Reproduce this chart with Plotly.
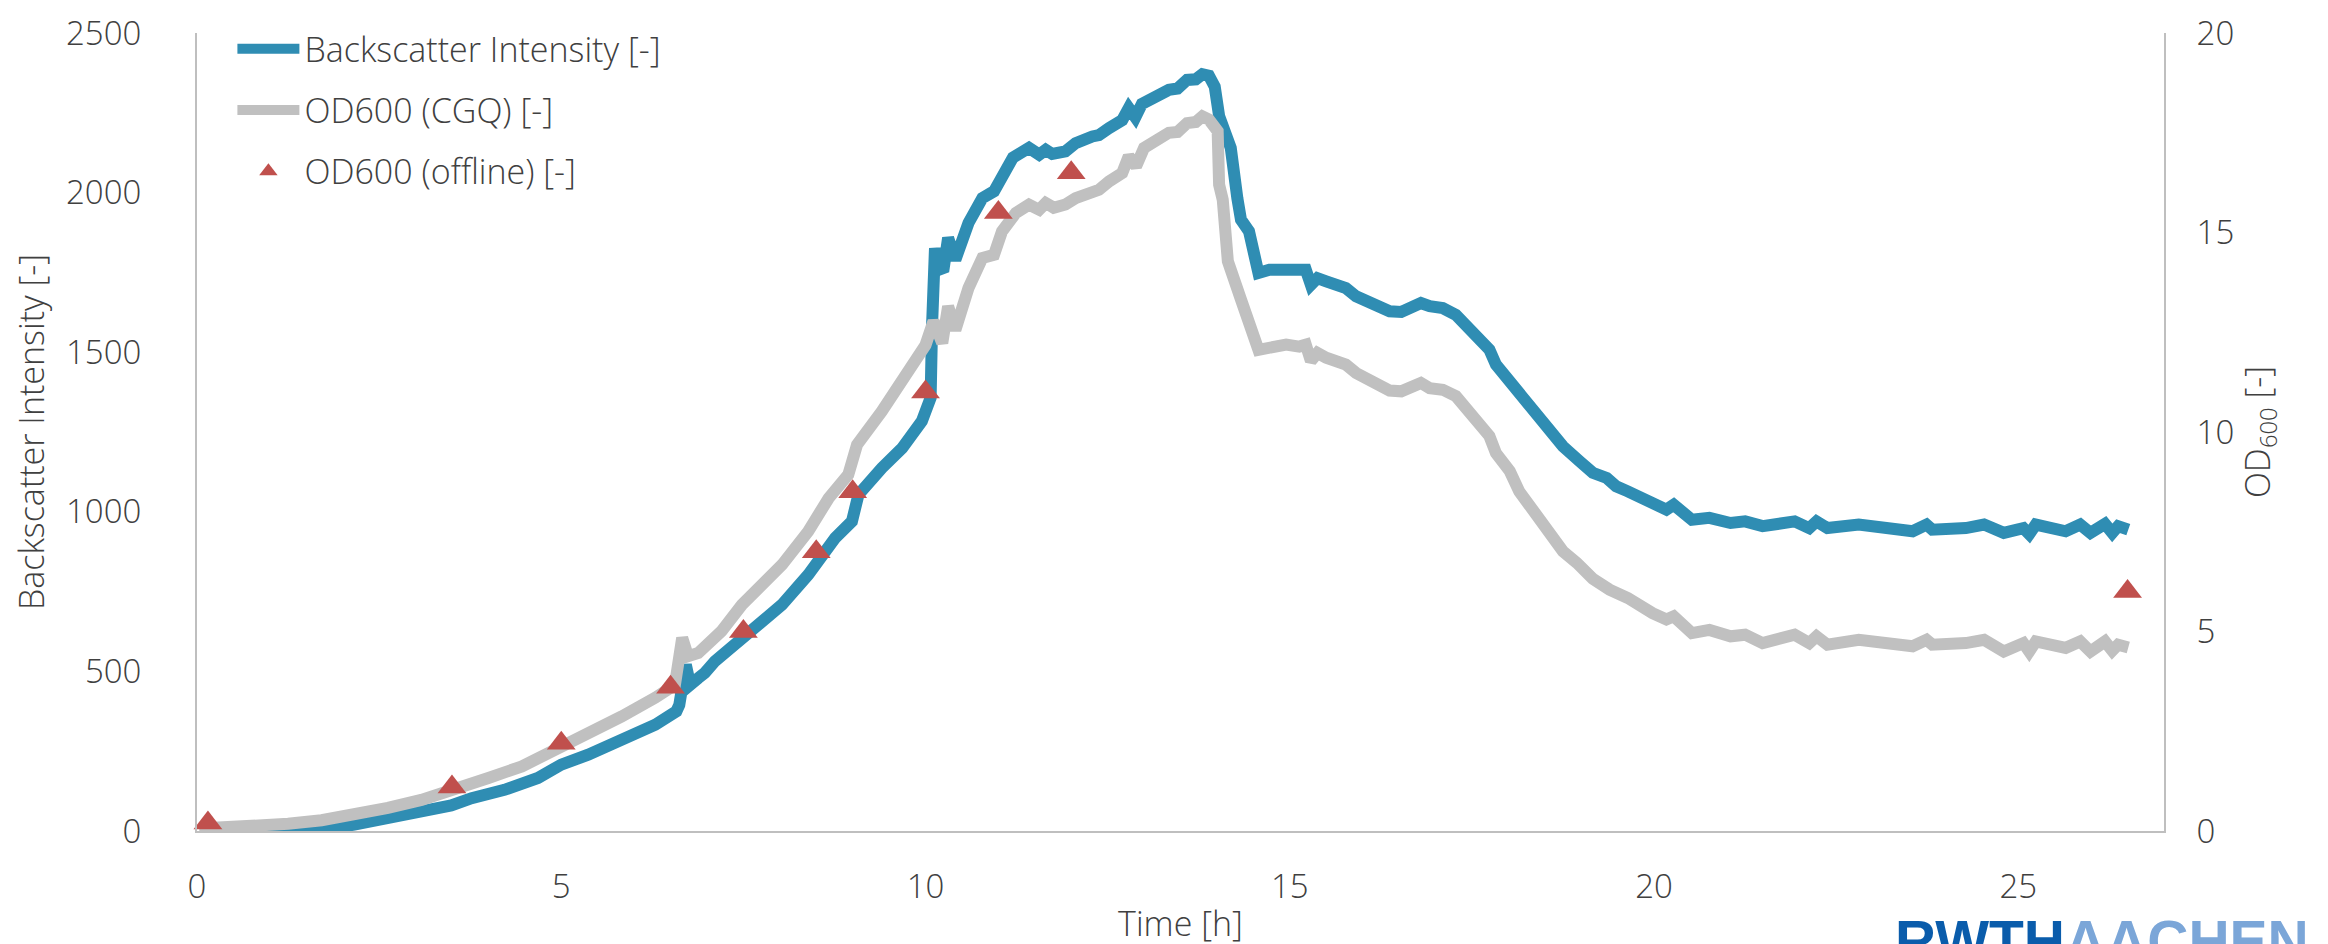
import plotly.graph_objects as go

# ---- Backscatter Intensity (left axis) ----
bs_time = [0.25, 0.74, 1.25, 1.70, 2.16, 2.62, 3.08, 3.49, 3.77, 4.22, 4.68, 5.00, 5.37, 5.83,
           6.29, 6.58, 6.62, 6.71, 6.77, 6.88, 6.97, 7.11, 7.57, 8.03, 8.39, 8.76, 8.99, 9.08,
           9.40, 9.68, 9.95, 10.07, 10.09, 10.13, 10.18, 10.25, 10.31, 10.41, 10.59, 10.78,
           10.94, 11.05, 11.20, 11.42, 11.56, 11.65, 11.74, 11.92, 12.06, 12.29, 12.38, 12.52,
           12.70, 12.79, 12.88, 12.97, 13.21, 13.34, 13.46, 13.59, 13.71, 13.80, 13.89, 13.97,
           14.03, 14.10, 14.19, 14.28, 14.33, 14.44, 14.57, 14.72, 14.95, 15.13, 15.22, 15.29,
           15.38, 15.50, 15.77, 15.91, 16.18, 16.37, 16.53, 16.64, 16.80, 16.92, 17.10, 17.28,
           17.47, 17.56, 17.74, 17.83, 18.02, 18.15, 18.38, 18.57, 18.75, 18.98, 19.16, 19.35,
           19.48, 19.64, 19.98, 20.17, 20.27, 20.52, 20.76, 21.05, 21.25, 21.49, 21.93, 22.13,
           22.23, 22.38, 22.81, 23.11, 23.55, 23.74, 23.82, 24.28, 24.53, 24.80, 25.07, 25.15,
           25.24, 25.65, 25.85, 25.99, 26.19, 26.29, 26.37, 26.51]
bs_value = [0, 0, 1, 4, 20, 39, 58, 80, 103, 129, 166, 208, 239, 286,
            333, 375, 395, 521, 458, 479, 495, 532, 615, 709, 803, 918, 970, 1054,
            1137, 1200, 1284, 1357, 1586, 1826, 1758, 1764, 1858, 1790, 1905, 1983,
            2004, 2056, 2110, 2140, 2119, 2134, 2121, 2129, 2155, 2176, 2180, 2202,
            2227, 2265, 2236, 2278, 2310, 2322, 2326, 2353, 2355, 2371, 2366, 2332,
            2240, 2181, 2140, 1983, 1915, 1879, 1748, 1758, 1758, 1753, 1758, 1711,
            1732, 1722, 1701, 1675, 1644, 1628, 1626, 1641, 1654, 1644, 1638, 1617,
            1576, 1555, 1508, 1461, 1409, 1367, 1304, 1252, 1205, 1158, 1122, 1106,
            1080, 1064, 1033, 1007, 1022, 975, 981, 965, 970, 955, 970, 949,
            970, 949, 960, 949, 939, 960, 944, 949, 960, 934, 949, 930,
            960, 939, 960, 934, 962, 934, 955, 944]

# ---- OD600 (CGQ) (right axis) ----
cgq_time = [0.03, 0.56, 1.25, 1.71, 2.16, 2.62, 3.08, 3.54, 4.00, 4.46, 4.91, 5.37, 5.83, 6.29,
            6.56, 6.66, 6.74, 6.88, 6.99, 7.20, 7.48, 7.57, 8.03, 8.39, 8.67, 8.94, 9.06, 9.40,
            9.77, 10.00, 10.11, 10.23, 10.31, 10.41, 10.59, 10.78, 10.94, 11.05, 11.24, 11.42,
            11.56, 11.65, 11.76, 11.92, 12.06, 12.38, 12.52, 12.70, 12.79, 12.89, 13.00, 13.21,
            13.34, 13.46, 13.59, 13.71, 13.80, 13.89, 14.01, 14.03, 14.08, 14.15, 14.24, 14.33,
            14.57, 14.72, 14.95, 15.13, 15.22, 15.29, 15.38, 15.50, 15.77, 15.91, 16.18, 16.37,
            16.53, 16.64, 16.80, 16.92, 17.10, 17.28, 17.47, 17.56, 17.74, 17.83, 18.02, 18.15,
            18.38, 18.57, 18.75, 18.94, 19.16, 19.39, 19.64, 19.98, 20.17, 20.27, 20.52, 20.76,
            21.05, 21.25, 21.49, 21.93, 22.13, 22.23, 22.38, 22.81, 23.11, 23.55, 23.74, 23.82,
            24.28, 24.53, 24.80, 25.07, 25.15, 25.24, 25.65, 25.85, 25.99, 26.19, 26.29, 26.37,
            26.51]
cgq_od = [0.06, 0.09, 0.18, 0.27, 0.41, 0.58, 0.78, 1.02, 1.33, 1.62, 2.02, 2.42, 2.87, 3.34,
          3.66, 4.84, 4.38, 4.46, 4.67, 5.01, 5.67, 5.84, 6.67, 7.51, 8.34, 8.93, 9.68, 10.52,
          11.60, 12.18, 12.78, 12.23, 13.15, 12.56, 13.61, 14.36, 14.44, 15.03, 15.49, 15.70,
          15.57, 15.74, 15.62, 15.70, 15.86, 16.07, 16.28, 16.49, 16.91, 16.66, 17.12, 17.37,
          17.50, 17.52, 17.74, 17.77, 17.91, 17.83, 17.54, 16.20, 15.82, 14.28, 13.69, 13.32,
          12.06, 12.14, 12.19, 12.14, 12.19, 11.78, 11.98, 11.86, 11.69, 11.48, 11.23, 11.04,
          11.02, 11.12, 11.23, 11.10, 11.06, 10.90, 10.52, 10.35, 9.90, 9.47, 9.02, 8.51,
          7.97, 7.51, 7.01, 6.72, 6.32, 6.05, 5.84, 5.46, 5.30, 5.38, 4.96, 5.04,
          4.88, 4.92, 4.71, 4.92, 4.71, 4.88, 4.67, 4.79, 4.71, 4.63, 4.79, 4.67,
          4.71, 4.79, 4.50, 4.71, 4.50, 4.75, 4.59, 4.75, 4.50, 4.75, 4.52, 4.67,
          4.60]

# ---- OD600 (offline) (right axis) ----
offline_time = [0.15, 3.5, 5.0, 6.5, 7.5, 8.5, 9.0, 10.0, 11.0, 12.0, 26.5]
offline_od = [0.2, 1.1, 2.2, 3.6, 5.0, 7.0, 8.5, 11.0, 15.5, 16.5, 6.0]

x_ticks = [0, 5, 10, 15, 20, 25]
y1_ticks = [0, 500, 1000, 1500, 2000, 2500]
y2_ticks = [0, 5, 10, 15, 20]

TXT = "#404040"
AX = "#BFBFBF"
FONT = "Open Sans"

fig = go.Figure()
fig.add_trace(go.Scatter(
    x=bs_time, y=bs_value, name="Backscatter Intensity [-]", mode="lines",
    line=dict(color="#2F8DB3", width=12), legendgroup="a"))
fig.add_trace(go.Scatter(
    x=cgq_time, y=cgq_od, name="OD600 (CGQ) [-]", mode="lines", yaxis="y2",
    line=dict(color="#C0C0C0", width=12), legendgroup="b"))
fig.add_trace(go.Scatter(
    x=offline_time, y=offline_od, name="OD600 (offline) [-]", mode="markers", yaxis="y2",
    marker=dict(symbol="triangle-up", size=25, color="#C0504D"), cliponaxis=False,
    legendgroup="c"))

tickfont = dict(family=FONT, size=33, color=TXT, weight=300)
titlefont = dict(family=FONT, size=34, color=TXT, weight=300)

fig.update_layout(
    width=2328, height=944,
    margin=dict(l=189, r=172, t=25, b=121, autoexpand=False),
    paper_bgcolor="white", plot_bgcolor="white",
    font=dict(family=FONT, color=TXT),
    xaxis=dict(range=[0, 27], tickvals=x_ticks, showline=True, linecolor=AX, linewidth=2,
               showgrid=False, zeroline=False, ticks="", tickfont=tickfont,
               ticklabelstandoff=25, automargin=False,
               title=dict(text="Time [h]", font=titlefont, standoff=6)),
    yaxis=dict(range=[0, 2500], tickvals=y1_ticks, showline=True, linecolor=AX, linewidth=2,
               showgrid=False, zeroline=False, ticks="", tickfont=tickfont,
               ticklabelstandoff=47, automargin=False,
               title=dict(text="Backscatter Intensity [-]", font=titlefont, standoff=16)),
    yaxis2=dict(range=[0, 20], tickvals=y2_ticks, overlaying="y", side="right", showline=True,
                linecolor=AX, linewidth=2, showgrid=False, zeroline=False, ticks="",
                tickfont=tickfont, ticklabelstandoff=24, automargin=False,
                title=dict(text="OD<sub>600</sub> [-]", font=titlefont, standoff=0)),
    legend=dict(x=0.018, y=1.016, xanchor="left", yanchor="top", bgcolor="rgba(0,0,0,0)",
                itemwidth=62, tracegroupgap=14,
                font=dict(family=FONT, size=34, color=TXT, weight=300)),
    showlegend=True,
)

fig.add_annotation(
    text="<b><span style='color:#0A5CAB'>RWTH</span><span style='color:#7BA6D8'>AACHEN</span></b>",
    xref="paper", yref="paper", x=0.862, y=-0.095, xanchor="left", yanchor="top",
    showarrow=False,
    font=dict(family="Liberation Sans Narrow, Liberation Sans, Arial", size=57))

fig.write_html("out.html")
